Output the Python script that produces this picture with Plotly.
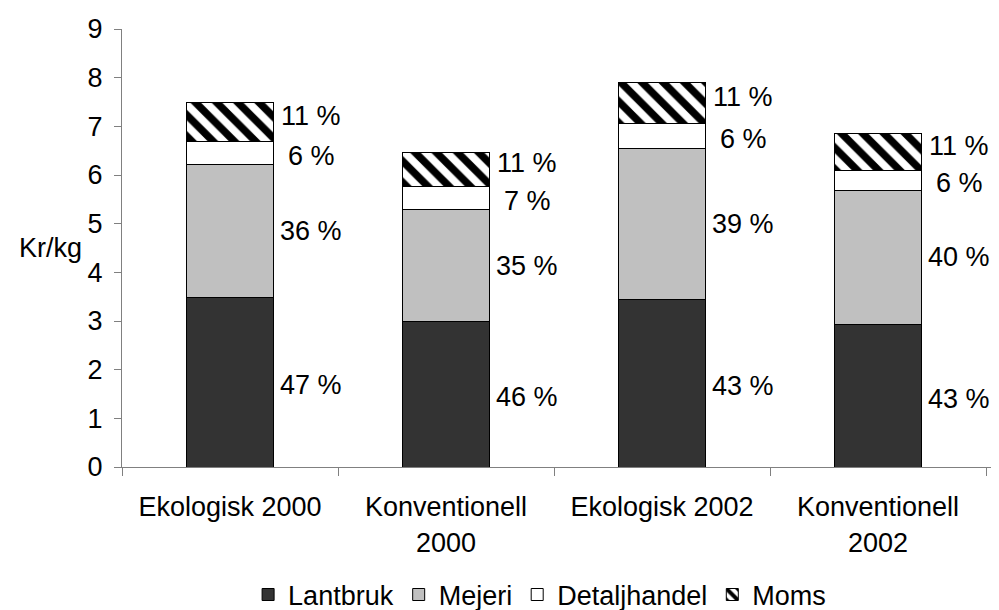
import plotly.graph_objects as go

categories = ["Ekologisk 2000", "Konventionell<br>2000", "Ekologisk 2002", "Konventionell<br>2002"]

lantbruk = [3.49, 2.98, 3.45, 2.92]
mejeri = [2.72, 2.32, 3.10, 2.77]
detaljhandel = [0.47, 0.47, 0.50, 0.41]
moms = [0.82, 0.70, 0.86, 0.76]

lantbruk_pct = ["47 %", "46 %", "43 %", "43 %"]
mejeri_pct = ["36 %", "35 %", "39 %", "40 %"]
detalj_pct = ["6 %", "7 %", "6 %", "6 %"]
moms_pct = ["11 %", "11 %", "11 %", "11 %"]

font = "Arial, Liberation Sans, sans-serif"
fsize = 27
edge = dict(color="black", width=1)

fig = go.Figure()
fig.add_trace(go.Bar(x=categories, y=lantbruk, name="Lantbruk",
                     marker=dict(color="#333333", line=edge)))
fig.add_trace(go.Bar(x=categories, y=mejeri, name="Mejeri",
                     marker=dict(color="#c0c0c0", line=edge)))
fig.add_trace(go.Bar(x=categories, y=detaljhandel, name="Detaljhandel",
                     marker=dict(color="white", line=edge)))
fig.add_trace(go.Bar(x=categories, y=moms, name="Moms",
                     marker=dict(color="white", line=edge,
                                 pattern=dict(shape="\\", fgcolor="black", bgcolor="white",
                                              fgopacity=1, size=15, solidity=0.5))))

# percentage labels to the right of each segment (small nudges keep the top two apart)
layers = [(lantbruk, lantbruk_pct, -3), (mejeri, mejeri_pct, 0),
          (detaljhandel, detalj_pct, -3), (moms, moms_pct, 6)]
for i, cat in enumerate(categories):
    base = 0
    for vals, labels, nudge in layers:
        mid = base + vals[i] / 2
        base += vals[i]
        fig.add_annotation(x=cat, y=mid, text=labels[i], showarrow=False,
                           xshift=81, yshift=nudge, xanchor="center", yanchor="middle",
                           font=dict(size=fsize, color="black", family=font))

fig.add_annotation(x=0, xref="paper", xanchor="right", xshift=-38, y=4.5, yref="y",
                   text="Kr/kg", showarrow=False,
                   font=dict(size=fsize, color="black", family=font))

# page body has an 8px margin, so the figure is a bit smaller than the window
fig.update_layout(
    barmode="stack",
    bargap=0.6,
    width=991, height=602,
    margin=dict(l=114, r=7, t=21, b=143, autoexpand=False),
    plot_bgcolor="white", paper_bgcolor="white",
    font=dict(family=font, size=fsize, color="black"),
    legend=dict(orientation="h", x=0.48, xanchor="center",
                yref="container", y=0.025, yanchor="middle",
                font=dict(size=fsize), traceorder="normal", itemwidth=30),
)
fig.update_xaxes(showline=True, linecolor="#808080", linewidth=1, ticks="outside",
                 tickson="boundaries", ticklen=8, tickcolor="#808080", showgrid=False,
                 tickfont=dict(size=fsize), ticklabelstandoff=16, automargin=False)
fig.update_yaxes(range=[0, 9], dtick=1, showline=True, linecolor="#808080", linewidth=1,
                 ticks="outside", ticklen=7, tickcolor="#808080", showgrid=False,
                 zeroline=False, tickfont=dict(size=fsize), ticklabelstandoff=6,
                 automargin=False)

fig.write_html("out.html")
